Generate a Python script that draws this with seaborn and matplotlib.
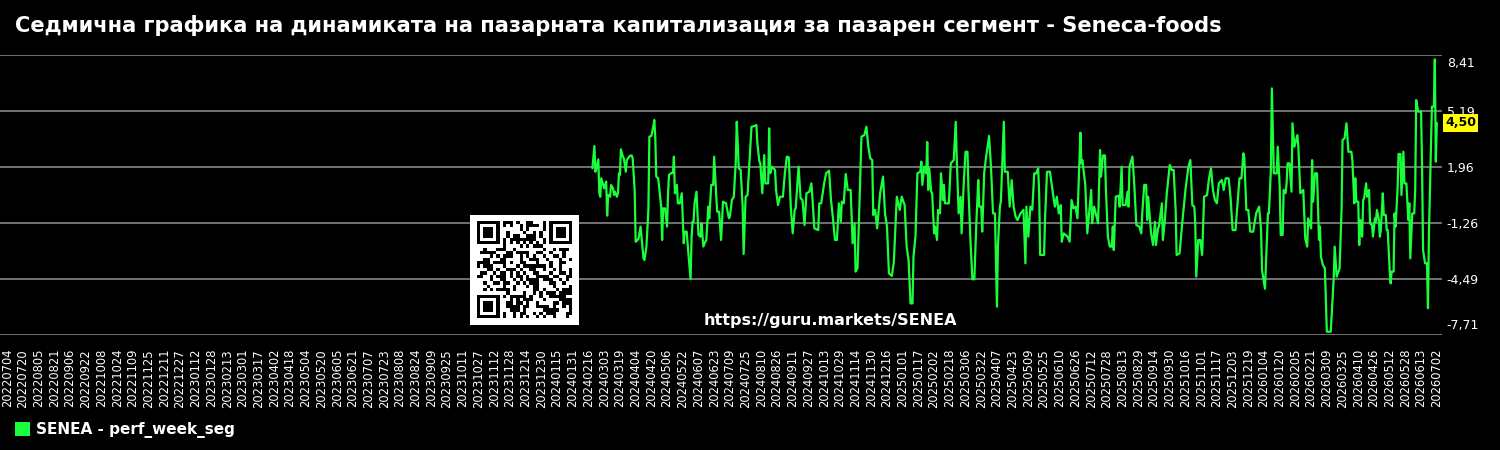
import numpy as np
import pandas as pd
import matplotlib
matplotlib.use("Agg")
import matplotlib.pyplot as plt
import matplotlib.transforms as mtransforms
from matplotlib.patches import Patch
import seaborn as sns

# ---------------- data ----------------
title = "Седмична графика на динамиката на пазарната капитализация за пазарен сегмент - Seneca-foods"
series_name = "SENEA - perf_week_seg"
watermark = "https://guru.markets/SENEA"
axis_start = "2022-07-04"
data_start = "2024-02-20"
tick_every = 16
n_regular_ticks = 91
last_tick_label = "20260702"
last_value = 4.50
y_ticks = [-7.71, -4.49, -1.26, 1.96, 5.19, 8.41]

day = [0, 2, 3, 4, 6, 7, 8, 9, 10, 12, 13, 14, 15, 16, 18, 19, 21, 22, 23, 25, 26, 27, 28, 29, 31, 32, 34, 35, 38, 40,
       41, 43, 44, 46, 47, 49, 50, 52, 53, 55, 57, 58, 60, 62, 63, 64, 65, 67, 69, 70, 71, 72, 74, 76, 77, 78, 80, 82, 83, 84,
       86, 87, 89, 91, 93, 94, 96, 98, 100, 101, 102, 103, 104, 106, 108, 110, 111, 113, 115, 116, 118, 119, 121, 123, 124, 126, 127, 129, 131, 133,
       136, 139, 140, 142, 144, 146, 147, 148, 149, 151, 153, 154, 156, 158, 160, 162, 165, 167, 168, 170, 171,
       173, 175, 176, 179, 180, 181, 183, 186, 187, 189, 191, 194, 196, 198, 200, 202, 204, 206, 207, 210, 212, 214, 216, 218,
       221, 223, 224, 226, 230, 231, 233, 236, 238, 241, 243, 245, 247, 249, 251, 253, 254, 256, 258, 260, 263, 265, 267, 268,
       270, 272, 274, 277, 279, 281, 283, 285, 286, 288, 290, 293, 296, 298, 300, 302, 305, 307, 310, 313, 315, 318, 320, 322,
       324, 326, 327, 329, 331, 334, 335, 336, 338, 340, 341,
       342, 343, 345, 346, 348, 349, 351, 352, 354, 355, 357, 358, 359, 363, 365, 368, 370, 371, 373, 375, 376, 378, 380, 382,
       383, 385, 387, 389, 391, 393, 394, 396, 397, 399, 401, 404, 406, 408, 410, 412, 413, 415, 416, 419, 420, 423, 425, 427,
       429, 431, 433, 436, 439, 441, 442, 444, 446, 448, 450, 452, 454, 455, 456, 460, 461, 463, 466, 469, 471, 473, 475, 477,
       478, 480, 484, 486, 488, 490, 492, 494, 497, 498, 499, 502, 504, 506, 508, 509, 511,
       513, 515, 517, 518, 520, 522, 523, 525, 527, 529, 530, 531, 533, 536, 537, 539, 540, 543, 545, 546, 547, 550, 552, 554,
       557, 559, 560, 562, 564, 565, 566, 569, 571, 573, 574, 576, 577, 580, 581, 583, 585, 588, 590, 592, 594, 595, 598, 601,
       604, 607, 609, 611, 613, 614, 615, 617, 619, 621, 623, 626, 628, 630, 632, 634, 636, 638, 641, 643, 645, 648, 650, 652,
       655, 659, 661, 663, 664, 666, 668, 670, 673, 676, 679, 681, 682, 685,
       688, 689, 691, 692, 694, 697, 698, 700, 701, 703, 704, 706, 707, 708, 710, 712, 713, 715, 718, 719, 721, 724, 726, 728,
       729, 732, 733, 734, 736, 738, 740, 741, 742, 744, 746, 748, 752, 755, 756, 758, 761, 763, 764, 766, 768, 770, 773, 774,
       776, 777, 778, 780, 781, 782, 784, 785, 786, 788, 789, 791, 792, 794, 795, 797, 798, 799, 801, 802, 803, 805, 806, 808,
       809, 810, 812, 813, 814, 816, 817, 818, 820, 821, 823, 824, 826, 827, 829, 831, 832, 833, 835, 837, 838, 839, 841, 844,
       845, 846, 848, 850, 851, 852, 854, 855, 857, 858, 859, 860]

perf = [1.89, 3.17, 1.69, 1.89, 2.40, 0.45, 0.25, 1.31, 1.12, 0.73, 0.93, 1.12, -0.84, 0.35, 0.25, 0.93, 0.73, 0.35, 0.54, 0.25, 0.45, 1.60, 1.50, 2.98, 2.56, 2.46, 1.69, 2.36, 2.60, 2.63,
        2.46, 0.64, -2.34, -2.24, -2.15, -1.47, -2.05, -3.30, -3.39, -2.62, -0.51, 3.71, 3.75, 4.28, 4.67, 3.71, 1.41, 1.31, 0.25, -0.32, -2.24, -0.42, -0.42, -1.47, 0.45, 1.50, 1.60, 1.63, 2.56, 0.45,
        0.93, -0.13, -0.13, 0.45, -2.43, -1.76, -1.76, -3.20, -4.50, -2.05, -1.19, -1.19, -0.13, 0.54, -1.95, -2.05, -1.28, -2.62, -2.34, -2.24, -0.32, -0.99, 0.93, 0.93, 2.56, 0.45, -0.61, -0.61, -2.24, -0.03,
        -0.13, -0.99, -0.90, 0.06, 0.25, 2.27, 4.57, 3.32, 1.89, 1.79, -0.32, -3.05, 0.25, 0.35, 2.36, 4.28, 4.32, 4.38, 3.32, 2.30, 2.17,
        0.45, 2.65, 1.02, 1.02, 4.19, 1.60, 1.98, 1.79, 0.64, -0.23, 0.25, 0.25, 1.60, 2.56, 2.52, -0.32, -1.86, -0.51, -0.42, 1.98, 0.16, 0.06, -1.38, 0.45,
        0.54, 1.02, 0.25, -1.57, -1.67, -0.13, -0.13, 1.02, 1.60, 1.75, 0.06, -0.99, -2.24, -2.24, -0.13, -1.19, -0.03, -0.13, 1.56, 0.64, 0.64, -2.43, -1.28, -4.06,
        -3.87, -0.03, 3.71, 3.80, 4.28, 3.13, 2.46, 2.36, -0.80, -0.51, -1.57, 0.45, 1.41, -0.71, -1.47, -4.16, -4.31, -3.49, 0.25, -0.51, 0.25, -0.23, -2.62, -3.39,
        -5.89, -5.89, -3.20, -2.05, 1.60, 1.69, 2.27, 0.93, 1.98, 1.60, 3.40,
        0.64, 1.89, 0.54, 0.45, -1.86, -1.47, -2.24, -0.51, -0.71, 1.60, 0.06, 0.93, -0.13, -0.13, 2.17, 2.36, 4.57, 2.56, -0.71, 0.25, -1.86, 0.83, 2.84, 2.84,
        0.64, -2.24, -4.50, -4.50, -1.28, 1.21, -0.32, -0.32, -1.76, 1.60, 2.56, 3.75, 1.89, -0.71, -0.71, -6.08, -2.62, -0.32, -0.03, 4.57, 1.69, 1.69, -0.32, 1.21,
        -0.32, -0.90, -1.09, -0.71, -0.51, -3.58, -0.32, -2.05, -0.32, -0.51, 1.60, 1.60, 1.89, 0.45, -3.10, -3.10, -0.99, 1.69, 1.69, 0.45, -0.32, 0.25, -0.71, -0.23,
        -2.34, -1.86, -2.05, -2.34, 0.06, -0.42, -0.32, -0.99, 3.94, 2.17, 2.36, 0.93, -1.86, -0.61, 0.64, -1.28, -0.32,
        -0.80, -1.28, 2.94, 1.41, 2.63, 2.63, 0.64, -2.05, -2.62, -2.62, -1.47, -2.82, 0.25, 0.31, -0.32, 1.98, -0.23, -0.23, 0.54, -0.32, 1.98, 2.56, 0.83, -1.38,
        -1.47, -1.86, -0.71, 0.93, 0.93, -1.09, 0.25, -1.86, -2.53, -1.19, -2.53, -1.57, -1.47, -0.13, -2.24, -1.09, 0.45, 2.08, 1.79, 1.79, -0.51, -3.10, -3.01, -1.09,
        0.64, 1.98, 2.36, -0.23, -0.32, -1.28, -4.35, -2.24, -2.24, -3.10, 0.25, 0.35, 1.31, 1.89, 0.64, 0.06, -0.13, 1.02, 1.21, 0.64, 1.31, 1.31, 0.16, -1.67,
        -1.67, 1.31, 1.31, 2.75, 2.46, -0.51, -0.51, -1.76, -1.76, -0.71, -0.32, -1.67, -3.97, -5.05,
        -0.71, -0.71, 1.79, 6.49, 1.60, 1.60, 3.13, 0.83, -1.95, -1.95, 0.64, 0.45, 1.02, 2.17, 2.17, 0.54, 4.48, 3.13, 3.80, 3.13, 0.45, 0.64, -2.15, -2.62,
        -0.99, -1.57, 2.36, -0.03, 1.60, 1.60, -2.24, -1.47, -3.20, -3.68, -3.87, -7.52, -7.52, -4.45, -2.62, -4.35, -3.87, -0.51, 3.52, 3.61, 4.48, 2.84, 2.84, 2.36,
        -0.13, 1.31, -0.03, -0.03, -2.53, -1.09, -2.05, 0.06, 0.16, 1.02, 0.25, 0.64, -1.28, -1.38, -2.05, -0.99, -1.19, -0.51, -1.09, -2.05, -1.67, 0.45, -0.80, -0.80,
        -1.67, -1.67, -3.97, -4.74, -4.06, -4.06, -0.71, -1.47, 0.64, 2.71, 2.71, 0.35, 2.84, 1.02, 1.02, -1.09, -0.13, -3.30, -0.71, -0.71, 0.64, 5.82, 5.15, 5.15,
        1.98, -2.82, -3.58, -3.58, -6.17, -1.86, 2.94, 5.44, 5.44, 8.16, 2.27, 4.50]

# ---------------- styling ----------------
BG = "black"
GREEN = "#1aff3c"
GRID = "#7a7a7a"

sns.set_theme(style="dark")
plt.rcParams["font.family"] = ["DejaVu Sans"]

W, H = 1500, 450
fig = plt.figure(figsize=(W / 100, H / 100), dpi=100, facecolor=BG)

def fx(px):
    return px / W

def fy(py):
    return 1 - py / H

ax = fig.add_axes([0, fy(335), fx(1442), (335 - 55) / H])
ax.set_facecolor(BG)

start_offset = (pd.Timestamp(data_start) - pd.Timestamp(axis_start)).days
df = pd.DataFrame({"pos": np.array(day) + start_offset, "perf": perf})
sns.lineplot(data=df, x="pos", y="perf", ax=ax, color=GREEN, lw=1.6,
             estimator=None, sort=False, legend=False)

tick_dates = pd.date_range(axis_start, periods=n_regular_ticks, freq=f"{tick_every}D")
tick_pos = list(range(0, n_regular_ticks * tick_every, tick_every)) + [n_regular_ticks * tick_every]
tick_lab = [d.strftime("%Y%m%d") for d in tick_dates] + [last_tick_label]

ax.set_xlim(-7.4, 1461.3)
ax.set_ylim(min(y_ticks), max(y_ticks))
ax.set_xticks(tick_pos)
ax.set_xticklabels(tick_lab, rotation=90, fontsize=8.3, color="white")
ax.yaxis.tick_right()
ax.set_yticks(y_ticks)
ax.set_yticklabels([f"{v:.2f}".replace(".", ",") for v in y_ticks], fontsize=9, color="white")
ax.tick_params(axis="x", length=0, pad=10)
ax.tick_params(axis="y", length=0, pad=3.5)
ylabs = ax.get_yticklabels()
ylabs[0].set_va("center")
ylabs[0].set_transform(ylabs[0].get_transform() + mtransforms.ScaledTranslation(0, 9 / 100, fig.dpi_scale_trans))
ylabs[-1].set_va("center")
ylabs[-1].set_transform(ylabs[-1].get_transform() + mtransforms.ScaledTranslation(0, -9 / 100, fig.dpi_scale_trans))
ax.set_xlabel("")
ax.set_ylabel("")
ax.grid(False)
ax.grid(axis="y", color=GRID, lw=1.3)
for s in ax.spines.values():
    s.set_visible(False)

# current value label
trans = mtransforms.blended_transform_factory(ax.transAxes, ax.transData)
ax.text(1.0 + 3 / 1442, last_value, f"{last_value:.2f}".replace(".", ","), transform=trans,
        ha="left", va="center", fontsize=9, fontweight="bold", color="black",
        bbox=dict(facecolor="#ffff00", edgecolor="none", boxstyle="square,pad=0.18"))

# title
fig.text(fx(15), fy(25), title, fontsize=15.1, fontweight="bold", color="white", ha="left", va="center")

# watermark
fig.text(fx(830), fy(320), watermark, fontsize=11.5, fontweight="bold", color="white", ha="center", va="center")

# QR-like code built from the url bytes
n = 29
qr = np.zeros((n, n), dtype=int)
reserved = np.zeros((n, n), dtype=bool)
def finder(r, c):
    for i in range(7):
        for j in range(7):
            on = (i in (0, 6) or j in (0, 6)) or (2 <= i <= 4 and 2 <= j <= 4)
            qr[r + i, c + j] = 1 if on else 0
    reserved[max(r - 1, 0):min(r + 8, n), max(c - 1, 0):min(c + 8, n)] = True
finder(0, 0)
finder(0, n - 7)
finder(n - 7, 0)
for k in range(8, n - 8):
    qr[6, k] = qr[k, 6] = (k + 1) % 2
    reserved[6, k] = reserved[k, 6] = True
bits = np.unpackbits(np.frombuffer((watermark * 40).encode(), dtype=np.uint8))
bi = 0
for i in range(n):
    for j in range(n):
        if not reserved[i, j]:
            b = bits[(bi * 7) % len(bits)] ^ ((i * j) % 3 == 0)
            qr[i, j] = b
            bi += 1
qr_img = np.pad(1 - qr, 2, constant_values=1)
qax = fig.add_axes([fx(470), fy(325), fx(109), 110 / H])
qax.imshow(qr_img, cmap="gray", vmin=0, vmax=1, interpolation="nearest", aspect="auto")
qax.axis("off")

# legend
fig.legend(handles=[Patch(facecolor=GREEN, edgecolor="none", label=series_name)],
           loc="center left", bbox_to_anchor=(fx(9), fy(430)), frameon=False,
           handlelength=1.0, handleheight=1.0, handletextpad=0.4, borderaxespad=0,
           prop={"size": 11, "weight": "bold"}, labelcolor="white")

fig.savefig("out.png", dpi=100, facecolor=BG)
